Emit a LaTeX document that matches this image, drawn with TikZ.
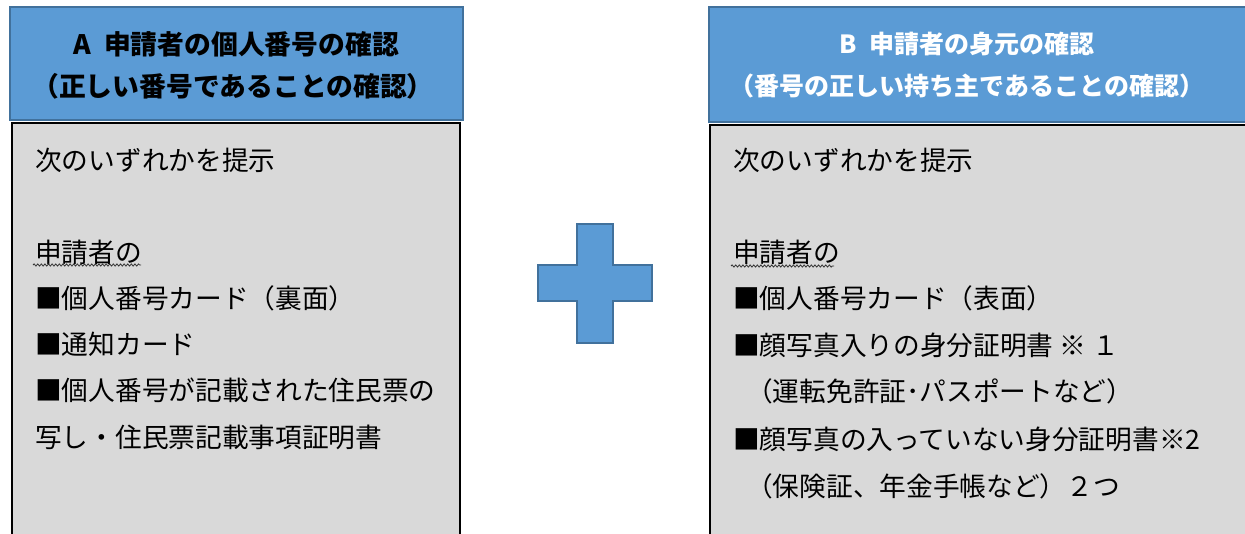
\documentclass[tikz,border=0pt]{standalone}
\usepackage{fontspec}
\setmainfont{Noto Sans CJK JP}
\usetikzlibrary{decorations.pathmorphing}
\definecolor{hdrfill}{HTML}{5B9BD5}
\definecolor{hdrline}{HTML}{41719C}
\definecolor{bodyfill}{HTML}{D9D9D9}
\tikzset{
  hdr/.style={fill=hdrfill,draw=hdrline,line width=1.5pt},
  bodybox/.style={fill=bodyfill,draw=black,line width=2pt},
  htxt/.style={font=\fontsize{26.8}{30}\selectfont\bfseries,inner sep=0pt},
  htxtb/.style={font=\fontsize{25}{30}\selectfont\bfseries,inner sep=0pt},
  btxt/.style={font=\fontsize{26.7}{30}\selectfont,anchor=west,inner sep=0pt},
  wavy/.style={draw=black!80,line width=0.8pt,decorate,decoration={snake,amplitude=1.1pt,segment length=3.6pt}},
  plus/.style={fill=hdrfill,draw=hdrline,line width=2pt}
}
\begin{document}
\begin{tikzpicture}[x=1pt,y=-1pt]
\useasboundingbox (0,0) rectangle (1245,533);
\clip (0,0) rectangle (1245,533);
% Box A
\draw[bodybox] (12,123) rectangle (460,545);
\draw[hdr] (10,7) rectangle (463,120);
\node[htxt,text=black] (ha1) at (236,44) {A\hspace{0.5em}申請者の個人番号の確認};
\node[htxt,text=black] (ha2) at (233,86) {（正しい番号であることの確認）};
\node[btxt] (a0) at (35,160) {次のいずれかを提示};
\node[btxt] (a1) at (35,252) {申請者の};
\draw[wavy] (33,265) -- (141,265);
\node[btxt] (a2) at (35,298) {■個人番号カード（裏面）};
\node[btxt] (a3) at (35,344) {■通知カード};
\node[btxt] (a4) at (35,390) {■個人番号が記載された住民票の};
\node[btxt] (a5) at (35,437) {写し・住民票記載事項証明書};
% Plus
\draw[plus] (577,224) -- (613,224) -- (613,265) -- (652,265) -- (652,301) -- (613,301) -- (613,343) -- (577,343) -- (577,301) -- (538,301) -- (538,265) -- (577,265) -- cycle;
% Box B
\draw[bodybox] (710,125) rectangle (1260,545);
\draw[hdr] (709,7) rectangle (1260,122);
\node[htxtb,text=white] (hb1) at (967,44) {B\hspace{0.5em}申請者の身元の確認};
\node[htxtb,text=white] (hb2) at (967,86) {（番号の正しい持ち主であることの確認）};
\node[btxt] (b0) at (733,160) {次のいずれかを提示};
\node[btxt] (b1) at (733,252) {申請者の};
\draw[wavy] (731,266) -- (834,266);
\node[btxt] (b2) at (733,298) {■個人番号カード（表面）};
\node[btxt] (b3) at (733,345) {■顔写真入りの身分証明書 ※ １};
\node[btxt] (b4) at (746,391) {（運転免許証･パスポートなど）};
\node[btxt] (b5) at (733,439) {■顔写真の入っていない身分証明書※2};
\node[btxt] (b6) at (746,486) {（保険証、年金手帳など）２つ};
\end{tikzpicture}
\end{document}
